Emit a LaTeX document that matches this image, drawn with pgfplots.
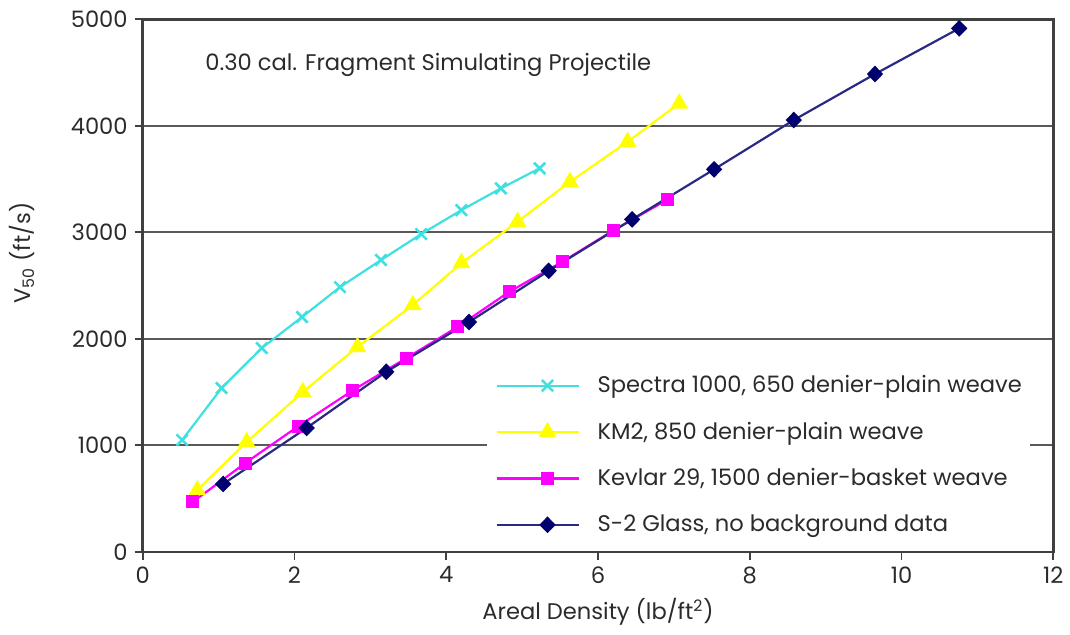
\documentclass[border=0pt]{standalone}
\usepackage{fontspec}
\setmainfont{Poppins}
\usepackage{pgfplots}
\pgfplotsset{compat=1.18}

\definecolor{spectra}{HTML}{40E0E0}
\definecolor{kmtwo}{HTML}{FFFF00}
\definecolor{kevlar}{HTML}{FF00FF}
\definecolor{sglass}{HTML}{00006E}
\definecolor{sline}{HTML}{2A2A85}
\definecolor{txt}{HTML}{2B2B2B}

\newcommand\chartfont{\fontsize{11.3}{13}\selectfont}

\begin{document}
\begin{tikzpicture}
\useasboundingbox (0,0) rectangle (535pt,317pt);
\begin{axis}[
  at={(71.35pt,41.15pt)}, anchor=south west,
  scale only axis, width=455.3pt, height=266.2pt,
  xmin=0, xmax=12, ymin=0, ymax=5000,
  xtick={0,2,...,12}, ytick={0,1000,...,5000},
  tick align=outside, tick pos=left, major tick length=4pt,
  ymajorgrids, grid style={black!65, line width=1.1pt},
  axis line style={black!75, line width=1.2pt},
  tick style={black!75, line width=0.9pt},
  /pgf/number format/assume math mode=true,
  scaled y ticks=false,
  y tick label style={/pgf/number format/1000 sep={}},
  ticklabel style={font=\chartfont, text=txt},
  label style={font=\chartfont, text=txt},
  xlabel={Areal Density (lb/ft\textsuperscript{2})},
  ylabel={V\textsubscript{50} (ft/s)},
  xlabel style={at={(axis description cs:0.5,-0.113)}, anchor=center},
  ylabel style={at={(axis description cs:-0.133,0.561)}, anchor=center},
  legend cell align=left,
  legend style={at={(axis description cs:0.3781,0.3563)}, anchor=north west,
    draw=none, fill=white, font=\chartfont, text=txt,
    inner xsep=4pt, inner ysep=0pt, row sep=0pt, column sep=9pt,
    nodes={inner sep=0pt, minimum height=23.2pt}},
  legend image code/.code={
    \path (-10pt,0pt) -- (0pt,0pt);
    \draw[mark repeat=2, mark phase=2] plot coordinates {(0pt,0pt) (15.5pt,0pt) (31pt,0pt)};
  },
  every axis plot/.append style={line width=1.1pt},
]
\addplot[color=spectra, mark=x, mark size=4pt, mark options={line width=1.3pt}] coordinates {
  (0.52,1049) (1.04,1537) (1.57,1913) (2.10,2204) (2.60,2485)
  (3.14,2739) (3.67,2983) (4.20,3208) (4.72,3412) (5.23,3600)
};
\addlegendentry{Spectra 1000, 650 denier-plain weave}
\addplot[color=kmtwo, mark=triangle*, mark size=4pt] coordinates {
  (0.72,579) (1.37,1030) (2.11,1500) (2.83,1923) (3.56,2317)
  (4.20,2711) (4.94,3099) (5.63,3474) (6.39,3850) (7.07,4210)
};
\addlegendentry{KM2, 850 denier-plain weave}
\addplot[color=kevlar, mark=square*, mark size=2.7pt] coordinates {
  (0.66,467) (1.35,832) (2.05,1178) (2.77,1516) (3.47,1816)
  (4.15,2111) (4.83,2441) (5.53,2723) (6.21,3021) (6.92,3309)
};
\addlegendentry{Kevlar 29, 1500 denier-basket weave}
\addplot[color=sline, mark=diamond*, mark size=3.4pt, mark options={color=sglass, xscale=1.3}] coordinates {
  (1.06,636) (2.16,1162) (3.21,1690) (4.30,2157) (5.35,2638)
  (6.45,3121) (7.53,3591) (8.58,4054) (9.65,4486) (10.76,4915)
};
\addlegendentry{S-2 Glass, no background data}
\node[anchor=west, inner sep=0pt, font=\chartfont, text=txt] at (axis cs:0.82,4570) {0.30 cal. Fragment Simulating Projectile};
\end{axis}
\end{tikzpicture}
\end{document}
